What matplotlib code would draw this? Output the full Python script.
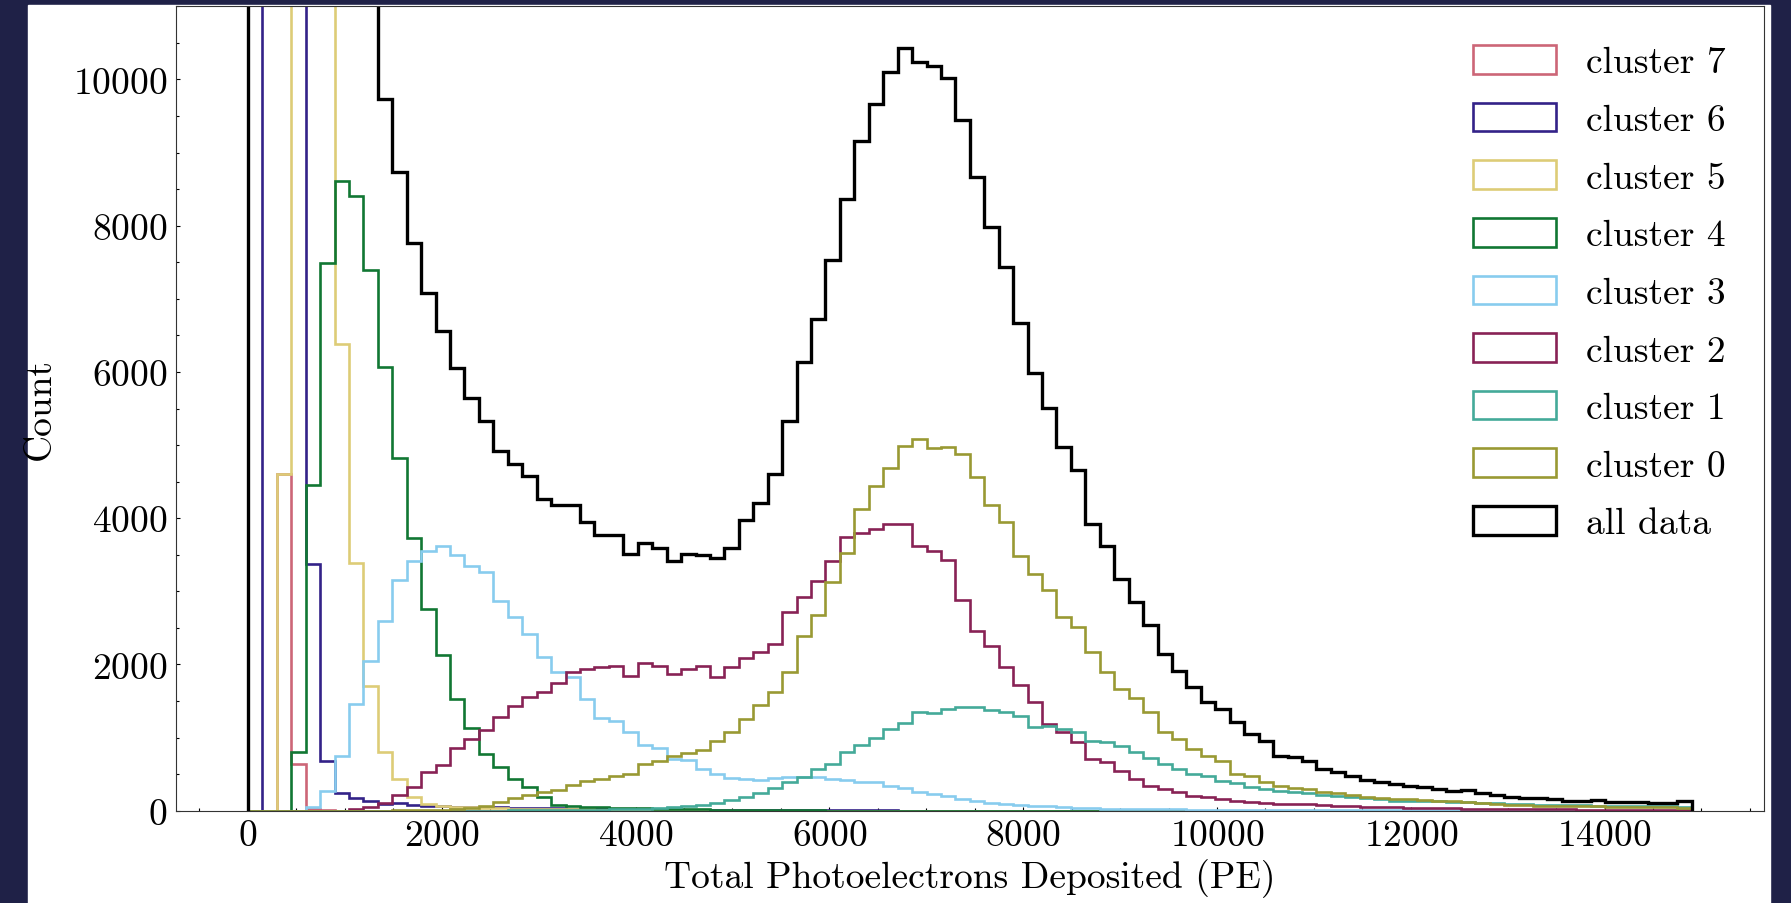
import numpy as np
import matplotlib
matplotlib.use("Agg")
import matplotlib.pyplot as plt
from matplotlib.patches import Rectangle
from matplotlib.ticker import MultipleLocator, AutoMinorLocator

plt.rcParams['font.family'] = ['cmr10', 'DejaVu Serif']
plt.rcParams['mathtext.fontset'] = 'cm'
plt.rcParams['axes.formatter.use_mathtext'] = True

# 100 bins over 0..14900 PE
bin_edges = np.arange(0, 14901, 149)

# counts per bin (bins above 11000 are clipped in the original)
cluster7 = [0, 0, 4600, 637, 20, 10] + [0] * 94

cluster6 = [0, 18000, 21000, 16000, 3367, 683, 240, 178, 130, 95,
            100, 80, 65, 60, 55, 50, 45, 45, 40, 40,
            35, 35, 30, 30, 28, 25, 22, 20, 18, 15,
            15, 12, 12, 10, 10, 8, 8, 6, 6, 5,
            5, 4, 4, 3, 3, 2, 2, 2, 1, 1] + [0] * 50

cluster5 = [0, 0, 4605, 14000, 15500, 12500, 6378, 3385, 1706, 796,
            428, 190, 95, 70, 55, 45, 40, 35, 30, 28,
            25, 22, 20, 18, 15, 12, 10, 8, 6, 5,
            4, 3, 2, 2, 1] + [0] * 65

cluster4 = [0, 0, 0, 805, 4454, 7494, 8608, 8412, 7389, 6069,
            4818, 3726, 2762, 2125, 1524, 1137, 773, 600, 432, 327,
            191, 77, 60, 50, 45, 40, 38, 35, 30, 28,
            25, 20, 15, 12, 10, 8, 6, 5, 4, 3,
            2, 2, 1, 1] + [0] * 56

cluster3 = [0, 0, 0, 0, 55, 268, 751, 1465, 2048, 2594,
            3149, 3413, 3558, 3626, 3499, 3353, 3262, 2867, 2648, 2421,
            2102, 1897, 1830, 1533, 1269, 1224, 1075, 900, 857, 706,
            697, 570, 501, 446, 433, 424, 446, 456, 456, 465,
            440, 424, 396, 387, 342, 305, 250, 228, 196, 160,
            137, 105, 91, 77, 68, 59, 46, 40, 35, 30,
            27, 24, 22, 20, 18, 16, 15, 14, 13, 12,
            11, 10, 9, 8, 8, 7, 7, 6, 6, 5,
            5, 5, 4, 4, 4, 3, 3, 3, 3, 2,
            2, 2, 2, 2, 2, 1, 1, 1, 1, 1]

cluster2 = [0, 0, 0, 0, 0, 0, 0, 20, 50, 100,
            214, 327, 532, 623, 860, 987, 1101, 1283, 1433, 1556,
            1624, 1747, 1897, 1943, 1966, 1975, 1840, 2020, 1975, 1868,
            1936, 1973, 1822, 1959, 2082, 2164, 2278, 2711, 2916, 3144,
            3408, 3736, 3804, 3850, 3918, 3918, 3622, 3554, 3426, 2879,
            2451, 2246, 1959, 1718, 1481, 1185, 1071, 934, 706, 661,
            547, 433, 342, 296, 250, 205, 182, 160, 137, 114,
            105, 98, 91, 85, 77, 68, 59, 55, 50, 46,
            42, 38, 35, 32, 30, 28, 26, 24, 22, 20,
            18, 17, 16, 15, 14, 13, 12, 11, 10, 10]

cluster1 = [0, 0, 0, 0, 0, 0, 0, 0, 0, 0,
            0, 0, 0, 0, 1, 1, 2, 2, 3, 4,
            5, 8, 10, 12, 15, 18, 22, 28, 35, 45,
            60, 77, 105, 146, 182, 241, 305, 387, 465, 570,
            638, 797, 898, 989, 1116, 1198, 1344, 1335, 1390, 1421,
            1412, 1376, 1344, 1298, 1139, 1162, 1116, 1080, 957, 934,
            888, 797, 722, 638, 570, 501, 478, 410, 378, 319,
            296, 273, 250, 241, 214, 205, 190, 169, 160, 137,
            135, 130, 128, 120, 114, 110, 105, 95, 88, 82,
            78, 75, 72, 70, 68, 65, 62, 60, 58, 55]

cluster0 = [0, 0, 0, 0, 0, 0, 0, 0, 1, 2,
            3, 4, 6, 10, 20, 40, 70, 120, 170, 210,
            255, 285, 350, 400, 440, 470, 500, 640, 683, 745,
            788, 834, 957, 1071, 1253, 1444, 1617, 1900, 2392, 2674,
            3130, 3522, 4123, 4442, 4693, 4989, 5080, 4966, 4975, 4875,
            4570, 4178, 3950, 3485, 3235, 3021, 2642, 2515, 2164, 1891,
            1663, 1540, 1344, 1075, 980, 840, 752, 683, 501, 478,
            387, 342, 310, 295, 260, 240, 220, 182, 175, 160,
            158, 150, 137, 130, 114, 108, 91, 78, 72, 68,
            65, 62, 60, 58, 55, 52, 50, 48, 45, 42]

all_data = [14000, 32000, 36000, 38000, 32000, 26000, 20000, 13500, 11400, 9732,
            8731, 7767, 7084, 6560, 6047, 5642, 5333, 4923, 4741, 4573,
            4263, 4181, 4185, 3945, 3772, 3775, 3510, 3660, 3599, 3408,
            3508, 3494, 3449, 3599, 3977, 4205, 4602, 5330, 6137, 6720,
            7527, 8360, 9158, 9668, 10105, 10424, 10237, 10183, 10014, 9445,
            8666, 7982, 7435, 6675, 5982, 5513, 4970, 4661, 3918, 3622,
            3166, 2848, 2545, 2141, 1914, 1695, 1481, 1390, 1217, 1048,
            957, 752, 729, 683, 569, 524, 478, 424, 396, 364,
            342, 319, 296, 273, 287, 241, 214, 182, 169, 169,
            159, 137, 137, 146, 114, 114, 123, 105, 110, 128]

labels = ['cluster 7', 'cluster 6', 'cluster 5', 'cluster 4',
          'cluster 3', 'cluster 2', 'cluster 1', 'cluster 0', 'all data']
series = [cluster7, cluster6, cluster5, cluster4,
          cluster3, cluster2, cluster1, cluster0, all_data]
colors = ['#CC6677', '#332288', '#DDCC77', '#117733',
          '#88CCEE', '#882255', '#44AA99', '#999933', 'black']

W, H = 1791, 904
fig = plt.figure(figsize=(W / 100, H / 100), dpi=100, facecolor='#1f2147')
# white card on the dark page
fig.add_artist(Rectangle((27.7 / W, 0), (1770 - 27.7) / W, (H - 6) / H,
                         transform=fig.transFigure, color='white', zorder=0))

ax = fig.add_axes([175.7 / W, 1 - 811.7 / H, (1764 - 175.7) / W, (811.7 - 7.3) / H])

centers = (bin_edges[:-1] + bin_edges[1:]) / 2
for vals, lab, col in zip(series, labels, colors):
    lw = 2.4 if lab == 'all data' else 1.9
    ax.hist(centers, bins=bin_edges, weights=vals, histtype='step',
            color=col, lw=lw, label=lab)

ax.set_ylim(0, 11000)
ax.xaxis.set_major_locator(MultipleLocator(2000))
ax.yaxis.set_major_locator(MultipleLocator(2000))
ax.xaxis.set_minor_locator(AutoMinorLocator(4))
ax.yaxis.set_minor_locator(AutoMinorLocator(4))
ax.tick_params(which='both', direction='in', labelsize=27, width=0.8)
ax.tick_params(which='major', length=3.1, pad=6)
ax.tick_params(which='minor', length=2)
for sp in ax.spines.values():
    sp.set_linewidth(0.8)
    sp.set_color('#333333')

ax.set_xlabel('Total Photoelectrons Deposited (PE)', fontsize=27, labelpad=4)
ax.set_ylabel('Count', fontsize=27, labelpad=12)

ax.legend(loc='upper left', bbox_to_anchor=(1473 / W, 1 - 46 / H),
          bbox_transform=fig.transFigure, frameon=False, fontsize=27,
          borderpad=0, borderaxespad=0, handlelength=2.2, handleheight=0.8,
          handletextpad=0.8, labelspacing=0.62)

fig.savefig('out.png', dpi=100, facecolor=fig.get_facecolor())
